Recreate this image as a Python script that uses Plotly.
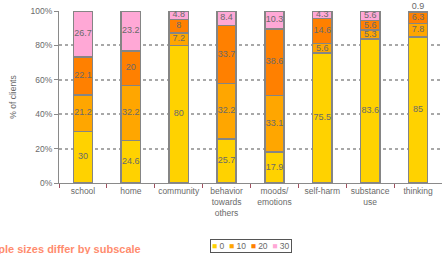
import plotly.graph_objects as go

categories = ["school", "home", "community", "behavior<br>towards<br>others",
              "moods/<br>emotions", "self-harm", "substance<br>use", "thinking"]
series_names = ["0", "10", "20", "30"]
values_0 = [30, 24.6, 80, 25.7, 17.9, 75.5, 83.6, 85]
values_10 = [21.2, 32.2, 7.2, 32.2, 33.1, 5.6, 5.3, 7.8]
values_20 = [22.1, 20, 8, 33.7, 38.6, 14.6, 5.6, 6.3]
values_30 = [26.7, 23.2, 4.8, 8.4, 10.3, 4.3, 5.6, 0.9]
colors = ["#FFD200", "#FFA600", "#FF8000", "#FFA8D6"]
y_ticks = [0, 20, 40, 60, 80, 100]
y_tick_labels = ["0%", "20%", "40%", "60%", "80%", "100%"]

all_series = [values_0, values_10, values_20, values_30]

FONT = "Liberation Sans, Arial, sans-serif"
TXT = "#6a6a6a"

fig = go.Figure()
for name, vals, col in zip(series_names, all_series, colors):
    fig.add_trace(go.Bar(
        x=categories, y=vals, name=name, width=0.4,
        marker=dict(color=col, line=dict(color="#858585", width=1.5)),
        showlegend=False, hoverinfo="skip",
    ))

# value labels at segment centres (small top segments placed above the bar)
base = [0] * len(categories)
for vals in all_series:
    ys, pos = [], []
    for i, v in enumerate(vals):
        if v < 2:
            ys.append(base[i] + v)
            pos.append("top center")
        else:
            ys.append(base[i] + v / 2)
            pos.append("middle center")
    fig.add_trace(go.Scatter(
        x=categories, y=ys, mode="text", text=[str(v) for v in vals],
        textposition=pos, textfont=dict(family=FONT, size=9, color=TXT),
        showlegend=False, hoverinfo="skip", cliponaxis=False,
    ))
    base = [b + v for b, v in zip(base, vals)]

legend_text = "&nbsp;&nbsp;".join(
    f'<span style="color:{c}">■</span> {n}' for n, c in zip(series_names, colors))

fig.update_layout(
    barmode="stack",
    width=442, height=254,
    margin=dict(l=59, r=0, t=11, b=71),
    paper_bgcolor="white", plot_bgcolor="white",
    font=dict(family=FONT, size=8.5, color=TXT),
    xaxis=dict(
        automargin=False, tickangle=0,
        showline=True, linecolor="#8a8a8a", linewidth=1,
        ticks="outside", tickson="boundaries", ticklen=4, tickcolor="#a05060",
        tickfont=dict(size=8.5, color=TXT), showgrid=False,
    ),
    yaxis=dict(
        automargin=False,
        range=[0, 100], tickmode="array", tickvals=y_ticks, ticktext=y_tick_labels,
        showline=True, linecolor="#8a8a8a", linewidth=1,
        ticks="outside", ticklen=4, tickcolor="#8a8a8a",
        showgrid=True, gridcolor="#a8a8a8", griddash="dot", gridwidth=1.5,
        zeroline=False,
        title=dict(text="% of clients", font=dict(size=8.5, color=TXT), standoff=12),
        tickfont=dict(size=8.5, color=TXT),
    ),
    annotations=[
        dict(text=legend_text, xref="paper", yref="paper", x=0.501, y=-0.366,
             xanchor="center", yanchor="middle", showarrow=False,
             font=dict(size=8.5, color=TXT), bordercolor="#555555", borderwidth=1,
             borderpad=1, bgcolor="white"),
        dict(text="<b>Sample sizes differ by subscale</b>", xref="paper", yref="paper",
             x=0.219, y=-0.384, xanchor="right", yanchor="middle", showarrow=False,
             font=dict(size=11, color="#FF8C6E")),
    ],
)

fig.write_html("out.html", config={"displayModeBar": False},
               post_script="document.body.style.margin='0';")
